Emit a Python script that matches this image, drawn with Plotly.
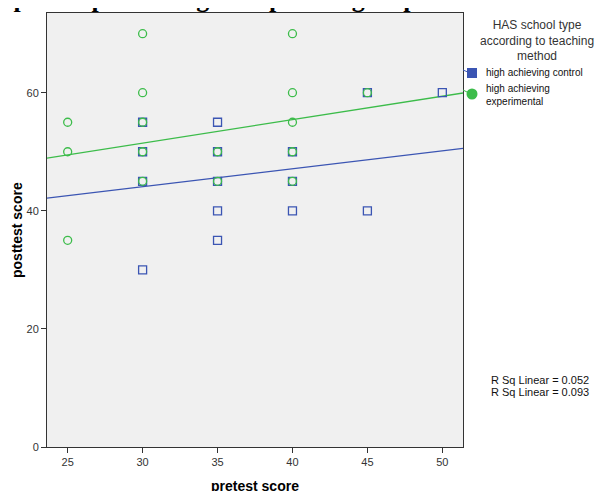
import plotly.graph_objects as go

# ---- data ----
control_pre = [30, 30, 30, 30, 35, 35, 35, 35, 35, 40, 40, 40, 45, 45, 50]
control_post = [55, 50, 45, 30, 55, 50, 45, 40, 35, 50, 45, 40, 60, 40, 60]
exp_pre = [25, 25, 25, 30, 30, 30, 30, 30, 35, 35, 40, 40, 40, 40, 40, 45]
exp_post = [55, 50, 35, 70, 60, 55, 50, 45, 50, 45, 70, 60, 55, 50, 45, 60]
fit_x = [23.62, 51.38]
control_fit = [42.15, 50.56]
exp_fit = [48.93, 59.95]
r2_labels = ["R Sq Linear = 0.052", "R Sq Linear = 0.093"]
group_names = ["high achieving control", "high achieving<br>experimental"]
legend_title = "HAS school type<br>according to teaching<br>method"
x_ticks = [25, 30, 35, 40, 45, 50]
y_ticks = [0, 20, 40, 60]

BLUE = "#3b55b3"
GREEN = "#3cbc4a"
W, H = 603, 491
OFF = 8  # page body margin
L, R, T, B = 47, 463, 13, 447  # plot area in page pixels

def px(x):
    return (x - L) / (R - L)

def py(y):
    return (B - y) / (B - T)

fig = go.Figure()
fig.add_trace(go.Scatter(x=fit_x, y=control_fit, mode="lines",
                         line=dict(color=BLUE, width=1.3), showlegend=False, hoverinfo="skip"))
fig.add_trace(go.Scatter(x=fit_x, y=exp_fit, mode="lines",
                         line=dict(color=GREEN, width=1.3), showlegend=False, hoverinfo="skip"))
fig.add_trace(go.Scatter(x=control_pre, y=control_post, mode="markers",
                         marker=dict(symbol="square-open", size=8, color=BLUE, line=dict(width=1.3)),
                         showlegend=False))
fig.add_trace(go.Scatter(x=exp_pre, y=exp_post, mode="markers",
                         marker=dict(symbol="circle-open", size=8, color=GREEN, line=dict(width=1.3)),
                         showlegend=False))

annotations = []
# document title above the chart (clipped at the top edge, as in the reference)
annotations.append(dict(text="<b>Scatter plot of posttest against pretest grouped under teaching method</b>",
                        xref="paper", yref="paper", x=px(-74), y=py(15.5), xanchor="left", yanchor="bottom",
                        showarrow=False, font=dict(family="Liberation Serif", size=26, color="#000")))
annotations.append(dict(text=legend_title, xref="paper", yref="paper", x=px(537), y=py(16),
                        xanchor="center", yanchor="top", showarrow=False, align="center",
                        font=dict(family="Liberation Sans", size=12, color="#333")))
annotations.append(dict(text=group_names[0], xref="paper", yref="paper", x=px(484), y=py(73),
                        xanchor="left", yanchor="middle", showarrow=False, align="left",
                        font=dict(family="Liberation Sans", size=10, color="#111")))
annotations.append(dict(text=group_names[1], xref="paper", yref="paper", x=px(484), y=py(95),
                        xanchor="left", yanchor="middle", showarrow=False, align="left",
                        font=dict(family="Liberation Sans", size=10, color="#111")))
for i, t in enumerate(r2_labels):
    annotations.append(dict(text=t, xref="paper", yref="paper", x=px(489), y=py(380 + 12 * i),
                            xanchor="left", yanchor="middle", showarrow=False,
                            font=dict(family="Liberation Sans", size=11, color="#111")))
annotations.append(dict(text="<b>posttest score</b>", xref="paper", yref="paper", x=px(17), y=0.5,
                        textangle=-90, xanchor="center", yanchor="middle", showarrow=False,
                        font=dict(family="Liberation Sans", size=14, color="#000")))
annotations.append(dict(text="<b>pretest score</b>", xref="paper", yref="paper", x=0.5, y=py(486),
                        xanchor="center", yanchor="middle", showarrow=False,
                        font=dict(family="Liberation Sans", size=14, color="#000")))

shapes = [
    dict(type="line", xref="paper", yref="paper", x0=px(463), y0=py(70), x1=px(469), y1=py(72.5),
         line=dict(color=BLUE, width=1)),
    dict(type="rect", xref="paper", yref="paper", x0=px(467), y0=py(68), x1=px(477), y1=py(78),
         fillcolor=BLUE, line=dict(width=0)),
    dict(type="line", xref="paper", yref="paper", x0=px(463), y0=py(90), x1=px(469), y1=py(93),
         line=dict(color=GREEN, width=1)),
    dict(type="circle", xref="paper", yref="paper", x0=px(466.5), y0=py(88.5), x1=px(477.5), y1=py(99.5),
         fillcolor=GREEN, line=dict(width=0)),
]

axis_common = dict(showgrid=False, zeroline=False, showline=True, linecolor="#333", linewidth=1,
                   mirror=True, ticks="outside", ticklen=5, tickcolor="#333",
                   tickfont=dict(family="Liberation Sans", size=11, color="#333"))
fig.update_layout(
    width=W - OFF, height=H - OFF,
    margin=dict(l=L - OFF, r=W - R, t=T - OFF, b=H - B, pad=0),
    paper_bgcolor="white", plot_bgcolor="#f0f0f0",
    xaxis=dict(range=[23.62, 51.38], tickvals=x_ticks, **axis_common),
    yaxis=dict(range=[0, 73.5], tickvals=y_ticks, **axis_common),
    annotations=annotations, shapes=shapes, showlegend=False,
)
fig.write_html("out.html")
